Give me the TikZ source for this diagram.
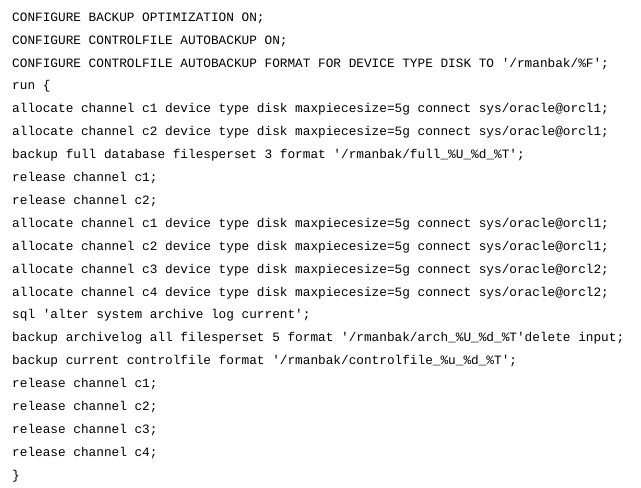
\documentclass[tikz,border=0pt]{standalone}
\usepackage{fontspec}
\setmonofont{Liberation Mono}
\usetikzlibrary{positioning}

\begin{document}
\begin{tikzpicture}[x=1pt,y=1pt,
    codeline/.style={anchor=west,inner sep=0pt,font=\ttfamily\fontsize{12.75}{14}\selectfont}]
    \useasboundingbox (0,0) rectangle (641,488);
    \node[codeline] (l1)  at (12,470) {CONFIGURE BACKUP OPTIMIZATION ON;};
    \node[codeline] (l2)  at (12,447.1) {CONFIGURE CONTROLFILE AUTOBACKUP ON;};
    \node[codeline] (l3)  at (12,424.2) {CONFIGURE CONTROLFILE AUTOBACKUP FORMAT FOR DEVICE TYPE DISK TO '/rmanbak/\%F';};
    \node[codeline] (l4)  at (12,401.3) {run \{};
    \node[codeline] (l5)  at (12,378.4) {allocate channel c1 device type disk maxpiecesize=5g connect sys/oracle@orcl1;};
    \node[codeline] (l6)  at (12,355.5) {allocate channel c2 device type disk maxpiecesize=5g connect sys/oracle@orcl1;};
    \node[codeline] (l7)  at (12,332.6) {backup full database filesperset 3 format '/rmanbak/full\_\%U\_\%d\_\%T';};
    \node[codeline] (l8)  at (12,309.7) {release channel c1;};
    \node[codeline] (l9)  at (12,286.8) {release channel c2;};
    \node[codeline] (l10) at (12,263.9) {allocate channel c1 device type disk maxpiecesize=5g connect sys/oracle@orcl1;};
    \node[codeline] (l11) at (12,241.0) {allocate channel c2 device type disk maxpiecesize=5g connect sys/oracle@orcl1;};
    \node[codeline] (l12) at (12,218.1) {allocate channel c3 device type disk maxpiecesize=5g connect sys/oracle@orcl2;};
    \node[codeline] (l13) at (12,195.2) {allocate channel c4 device type disk maxpiecesize=5g connect sys/oracle@orcl2;};
    \node[codeline] (l14) at (12,172.3) {sql 'alter system archive log current';};
    \node[codeline] (l15) at (12,149.4) {backup archivelog all filesperset 5 format '/rmanbak/arch\_\%U\_\%d\_\%T'delete input;};
    \node[codeline] (l16) at (12,126.5) {backup current controlfile format '/rmanbak/controlfile\_\%u\_\%d\_\%T';};
    \node[codeline] (l17) at (12,103.6) {release channel c1;};
    \node[codeline] (l18) at (12,80.7) {release channel c2;};
    \node[codeline] (l19) at (12,57.8) {release channel c3;};
    \node[codeline] (l20) at (12,34.9) {release channel c4;};
    \node[codeline] (l21) at (12,12.0) {\}};
\end{tikzpicture}
\end{document}
